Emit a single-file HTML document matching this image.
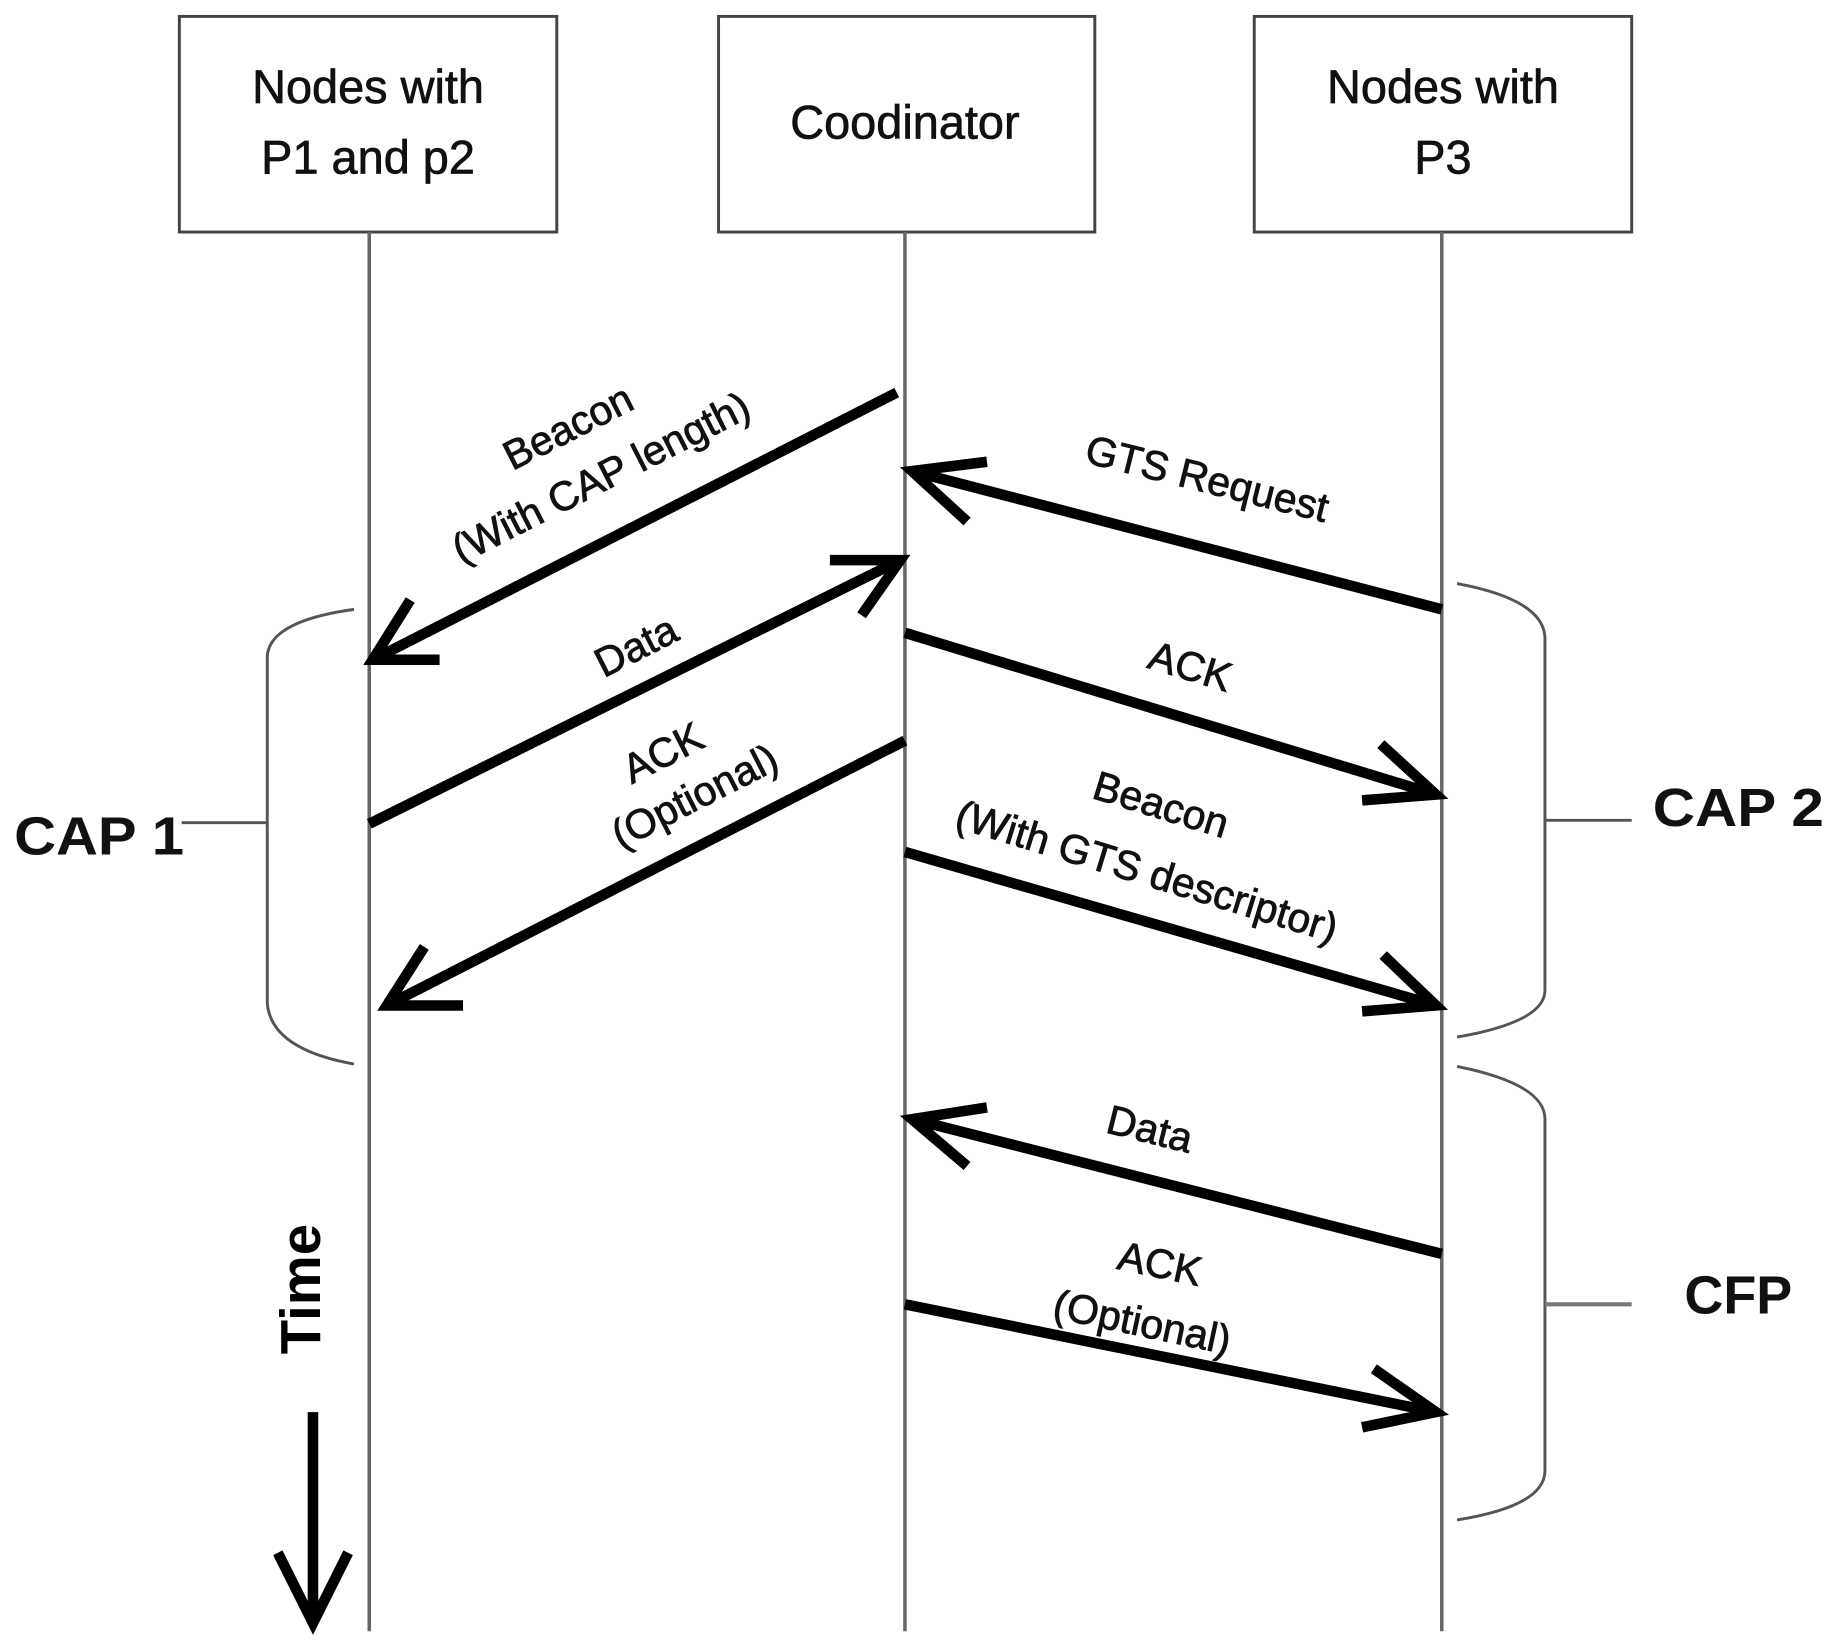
<!DOCTYPE html>
<html><head><style>html,body{margin:0;padding:0;background:#fff}svg{display:block}</style></head>
<body>
<svg width="1838" height="1650" viewBox="0 0 1568 1408" preserveAspectRatio="none" xmlns="http://www.w3.org/2000/svg" font-family="Liberation Sans, sans-serif">
<rect width="1568" height="1408" fill="#fff"/>
<g fill="#fff" stroke="#444" stroke-width="2.5">
<rect x="153" y="14" width="322" height="184"/>
<rect x="613" y="14" width="321" height="184"/>
<rect x="1070" y="14" width="322" height="184"/>
</g>
<g font-size="40" text-anchor="middle" fill="#111" stroke="#111" stroke-width="0.6">
<text x="314" y="88">Nodes with</text>
<text x="314" y="148">P1 and p2</text>
<text x="772" y="118">Coodinator</text>
<text x="1231" y="88">Nodes with</text>
<text x="1231" y="148">P3</text>
</g>
<g stroke="#666" stroke-width="3">
<line x1="315" y1="198" x2="315" y2="1392"/>
<line x1="772" y1="198" x2="772" y2="1392"/>
<line x1="1230" y1="198" x2="1230" y2="1392"/>
</g>
<g stroke="#000" stroke-width="9" fill="none" stroke-linecap="butt">
<line x1="765" y1="335" x2="318" y2="563"/><polyline points="350,512 318,563 375,563"/>
<line x1="1230" y1="520" x2="778" y2="402"/><polyline points="842,394 778,402 825,445"/>
<line x1="315" y1="703" x2="768" y2="478"/><polyline points="708,478 768,478 735,525"/>
<line x1="772" y1="540" x2="1225" y2="678"/><polyline points="1178,635 1225,678 1162,683"/>
<line x1="772" y1="632" x2="330" y2="858"/><polyline points="362,808 330,858 395,858"/>
<line x1="772" y1="727" x2="1225" y2="858"/><polyline points="1180,815 1225,858 1162,863"/>
<line x1="1230" y1="1070" x2="778" y2="955"/><polyline points="842,945 778,955 825,995"/>
<line x1="772" y1="1113" x2="1225" y2="1205"/><polyline points="1172,1168 1225,1205 1162,1218"/>
<line x1="267" y1="1205" x2="267" y2="1380"/><polyline points="237,1325 267,1385 297,1325"/>
</g>
<g font-size="35" fill="#111" text-anchor="middle" stroke="#111" stroke-width="0.7">
<g transform="translate(490,375) rotate(-27)"><text x="0" y="0">Beacon</text></g>
<g transform="translate(518,418) rotate(-27)"><text x="0" y="0">(With CAP length)</text></g>
<g transform="translate(548,562) rotate(-27)"><text x="0" y="0">Data</text></g>
<g transform="translate(571,653) rotate(-27)"><text x="0" y="0">ACK</text></g>
<g transform="translate(598,690) rotate(-27)"><text x="0" y="0">(Optional)</text></g>
<g transform="translate(1027,420) rotate(14)"><text x="0" y="0">GTS Request</text></g>
<g transform="translate(1012,580) rotate(17)"><text x="0" y="0">ACK</text></g>
<g transform="translate(987,698) rotate(17)"><text x="0" y="0">Beacon</text></g>
<g transform="translate(975,755) rotate(17)"><text x="0" y="0">(With GTS descriptor)</text></g>
<g transform="translate(978,975) rotate(14)"><text x="0" y="0">Data</text></g>
<g transform="translate(987,1090) rotate(12)"><text x="0" y="0">ACK</text></g>
<g transform="translate(972,1140) rotate(12)"><text x="0" y="0">(Optional)</text></g>
</g>
<g transform="translate(273,1100) rotate(-90)"><text x="0" y="0" font-size="48" font-weight="bold" text-anchor="middle">Time</text></g>
<g fill="none" stroke="#555" stroke-width="2.5">
<path d="M302,520 Q230,530 228,560 L228,855 Q230,895 302,908"/>
<line x1="155" y1="702" x2="228" y2="702"/>
<path d="M1243,498 Q1318,512 1318,545 L1318,845 Q1318,872 1243,885"/>
<line x1="1318" y1="700" x2="1392" y2="700"/>
<path d="M1243,910 Q1318,925 1318,955 L1318,1255 Q1318,1285 1243,1297"/>
<line x1="1318" y1="1113" x2="1392" y2="1113" stroke="#777" stroke-width="3.5"/>
</g>
<g font-size="46" font-weight="bold" fill="#111">
<text x="12" y="729" textLength="145" lengthAdjust="spacingAndGlyphs">CAP 1</text>
<text x="1410" y="705" textLength="146" lengthAdjust="spacingAndGlyphs">CAP 2</text>
<text x="1437" y="1121">CFP</text>
</g>
</svg>
</body></html>
